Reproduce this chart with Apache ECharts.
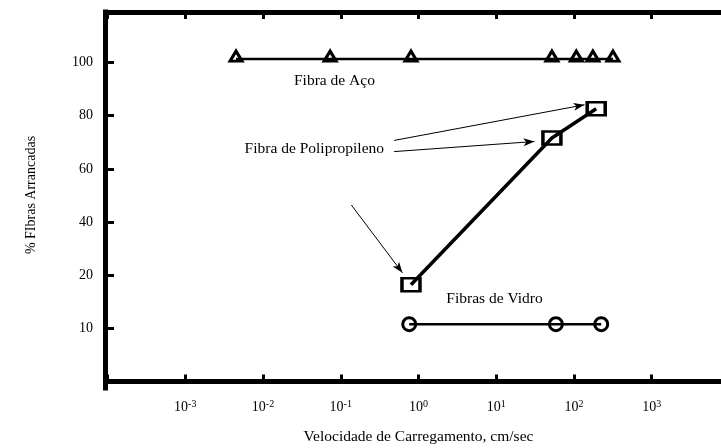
<!DOCTYPE html>
<html><head><meta charset="utf-8">
<script src="https://cdn.jsdelivr.net/npm/echarts@6/dist/echarts.min.js"></script>
<style>html,body{margin:0;padding:0;background:#fff}#c{width:721px;height:448px}</style>
</head><body><div id="c"></div>
<script>
// ---- data ----
const velSteel = [0.0045, 0.073, 0.80, 52, 107, 175, 317];
const pctSteel = [101.3, 101.3, 101.3, 101.3, 101.3, 101.3, 101.3];
const velPP = [0.80, 52, 193];
const pctPP = [18.2, 71.6, 82.6];
const velGlass = [0.76, 58.5, 224];
const pctGlass = [10.8, 10.8, 10.8];
const yTickValues = [10, 20, 40, 60, 80, 100];
const xTickExponents = [-3, -2, -1, 0, 1, 2, 3];
const yBreaks = [0, 10, 20, 40, 60, 80, 100, 120];

// annotations (data coordinates)
const labelNotes = [
  { text: 'Fibra de Aço', vel: 0.083, pct: 92.9 },
  { text: 'Fibra de Polipropileno', vel: 0.0457, pct: 67.5 },
  { text: 'Fibras de Vidro', vel: 9.5, pct: 15.5 }
];
const arrowNotes = [
  { from: [0.486, 70.7], to: [136.5, 84.1] },
  { from: [0.486, 66.5], to: [31, 70.3] },
  { from: [0.137, 46.4], to: [0.622, 20.9] }
];

// y axis of the original is piecewise: equal spacing between tick values
function toPos(v) {
  for (let i = 0; i < yBreaks.length - 1; i++) {
    if (v <= yBreaks[i + 1] || i === yBreaks.length - 2) {
      return i + (v - yBreaks[i]) / (yBreaks[i + 1] - yBreaks[i]);
    }
  }
}
const yTickPos = yTickValues.map(toPos);
const FONT = '"Liberation Serif", "DejaVu Serif", serif';

function pts(xs, ys) { return xs.map((x, i) => [x, toPos(ys[i])]); }

const chart = echarts.init(document.getElementById('c'));
const markerStyle = { color: 'rgba(0,0,0,0)', borderColor: '#000', borderWidth: 3 };

chart.setOption({
  animation: false,
  backgroundColor: '#fff',
  grid: { left: 107.5, width: 622, top: 12, bottom: 60, containLabel: false, outerBoundsMode: 'none' },
  xAxis: [{
    type: 'log', logBase: 10, min: 0.0001, max: 10000,
    name: 'Velocidade de Carregamento, cm/sec',
    nameLocation: 'middle', nameGap: 41,
    nameTextStyle: { fontFamily: FONT, fontSize: 15.5, color: '#000' },
    axisLine: { lineStyle: { color: '#000', width: 5, cap: 'square' } },
    axisTick: { inside: true, length: 7, lineStyle: { color: '#000', width: 3 } },
    splitLine: { show: false },
    axisLabel: {
      margin: 11, color: '#000', fontFamily: FONT, fontSize: 14,
      formatter: function (v) {
        const e = Math.round(Math.log10(v));
        if (xTickExponents.indexOf(e) < 0) return '';
        return '10{s|' + e + '}';
      },
      rich: { s: { fontSize: 10, fontFamily: FONT, color: '#000', padding: [0, 0, 6, 0] } }
    }
  }, {
    type: 'log', logBase: 10, min: 0.0001, max: 10000, position: 'top',
    axisLine: { lineStyle: { color: '#000', width: 5, cap: 'square' } },
    axisTick: { inside: true, length: 7, lineStyle: { color: '#000', width: 3 } },
    axisLabel: { show: false },
    splitLine: { show: false }
  }],
  yAxis: {
    type: 'value', min: -0.12, max: 6.95, offset: 2.5,
    name: '% FIbras Arrancadas',
    nameLocation: 'middle', nameGap: 67,
    nameTextStyle: { fontFamily: FONT, fontSize: 14, color: '#000', padding: [0, 0, 0, 10] },
    axisLine: { show: true, lineStyle: { color: '#000', width: 5, cap: 'square' } },
    axisTick: { show: true, inside: true, length: 9, customValues: yTickPos, lineStyle: { color: '#000', width: 3 } },
    axisLabel: {
      margin: 12, color: '#000', fontFamily: FONT, fontSize: 14, customValues: yTickPos,
      formatter: function (v) {
        let best = 0;
        yTickPos.forEach((p, i) => { if (Math.abs(p - v) < Math.abs(yTickPos[best] - v)) best = i; });
        return String(yTickValues[best]);
      }
    },
    splitLine: { show: false }
  },
  series: [{
    name: 'Fibra de Aço', type: 'line', data: pts(velSteel, pctSteel),
    symbol: 'triangle', symbolSize: [12, 10], symbolOffset: [0, -3],
    lineStyle: { color: '#000', width: 2.5 }, itemStyle: markerStyle, z: 3
  }, {
    name: 'Fibra de Polipropileno', type: 'line', data: pts(velPP, pctPP),
    symbol: 'rect', symbolSize: [18, 13],
    lineStyle: { color: '#000', width: 3.5 }, itemStyle: markerStyle, z: 3,
    markLine: {
      silent: true, animation: false,
      label: { show: false },
      lineStyle: { color: '#000', width: 1, type: 'solid' },
      data: arrowNotes.map(a => [
        { coord: [a.from[0], toPos(a.from[1])], symbol: 'none' },
        { coord: [a.to[0], toPos(a.to[1])], symbol: 'arrow', symbolSize: [6, 11] }
      ])
    },
    markPoint: {
      silent: true, animation: false,
      symbol: 'circle', symbolSize: 1, itemStyle: { color: 'rgba(0,0,0,0)' },
      label: { show: true, position: 'inside', color: '#000', fontFamily: FONT, fontSize: 15.5, formatter: p => p.name },
      data: labelNotes.map(n => ({ name: n.text, coord: [n.vel, toPos(n.pct)] }))
    }
  }, {
    name: 'Fibras de Vidro', type: 'line', data: pts(velGlass, pctGlass),
    symbol: 'circle', symbolSize: 13,
    lineStyle: { color: '#000', width: 2.5 }, itemStyle: markerStyle, z: 3
  }]
});
</script>
</body></html>
